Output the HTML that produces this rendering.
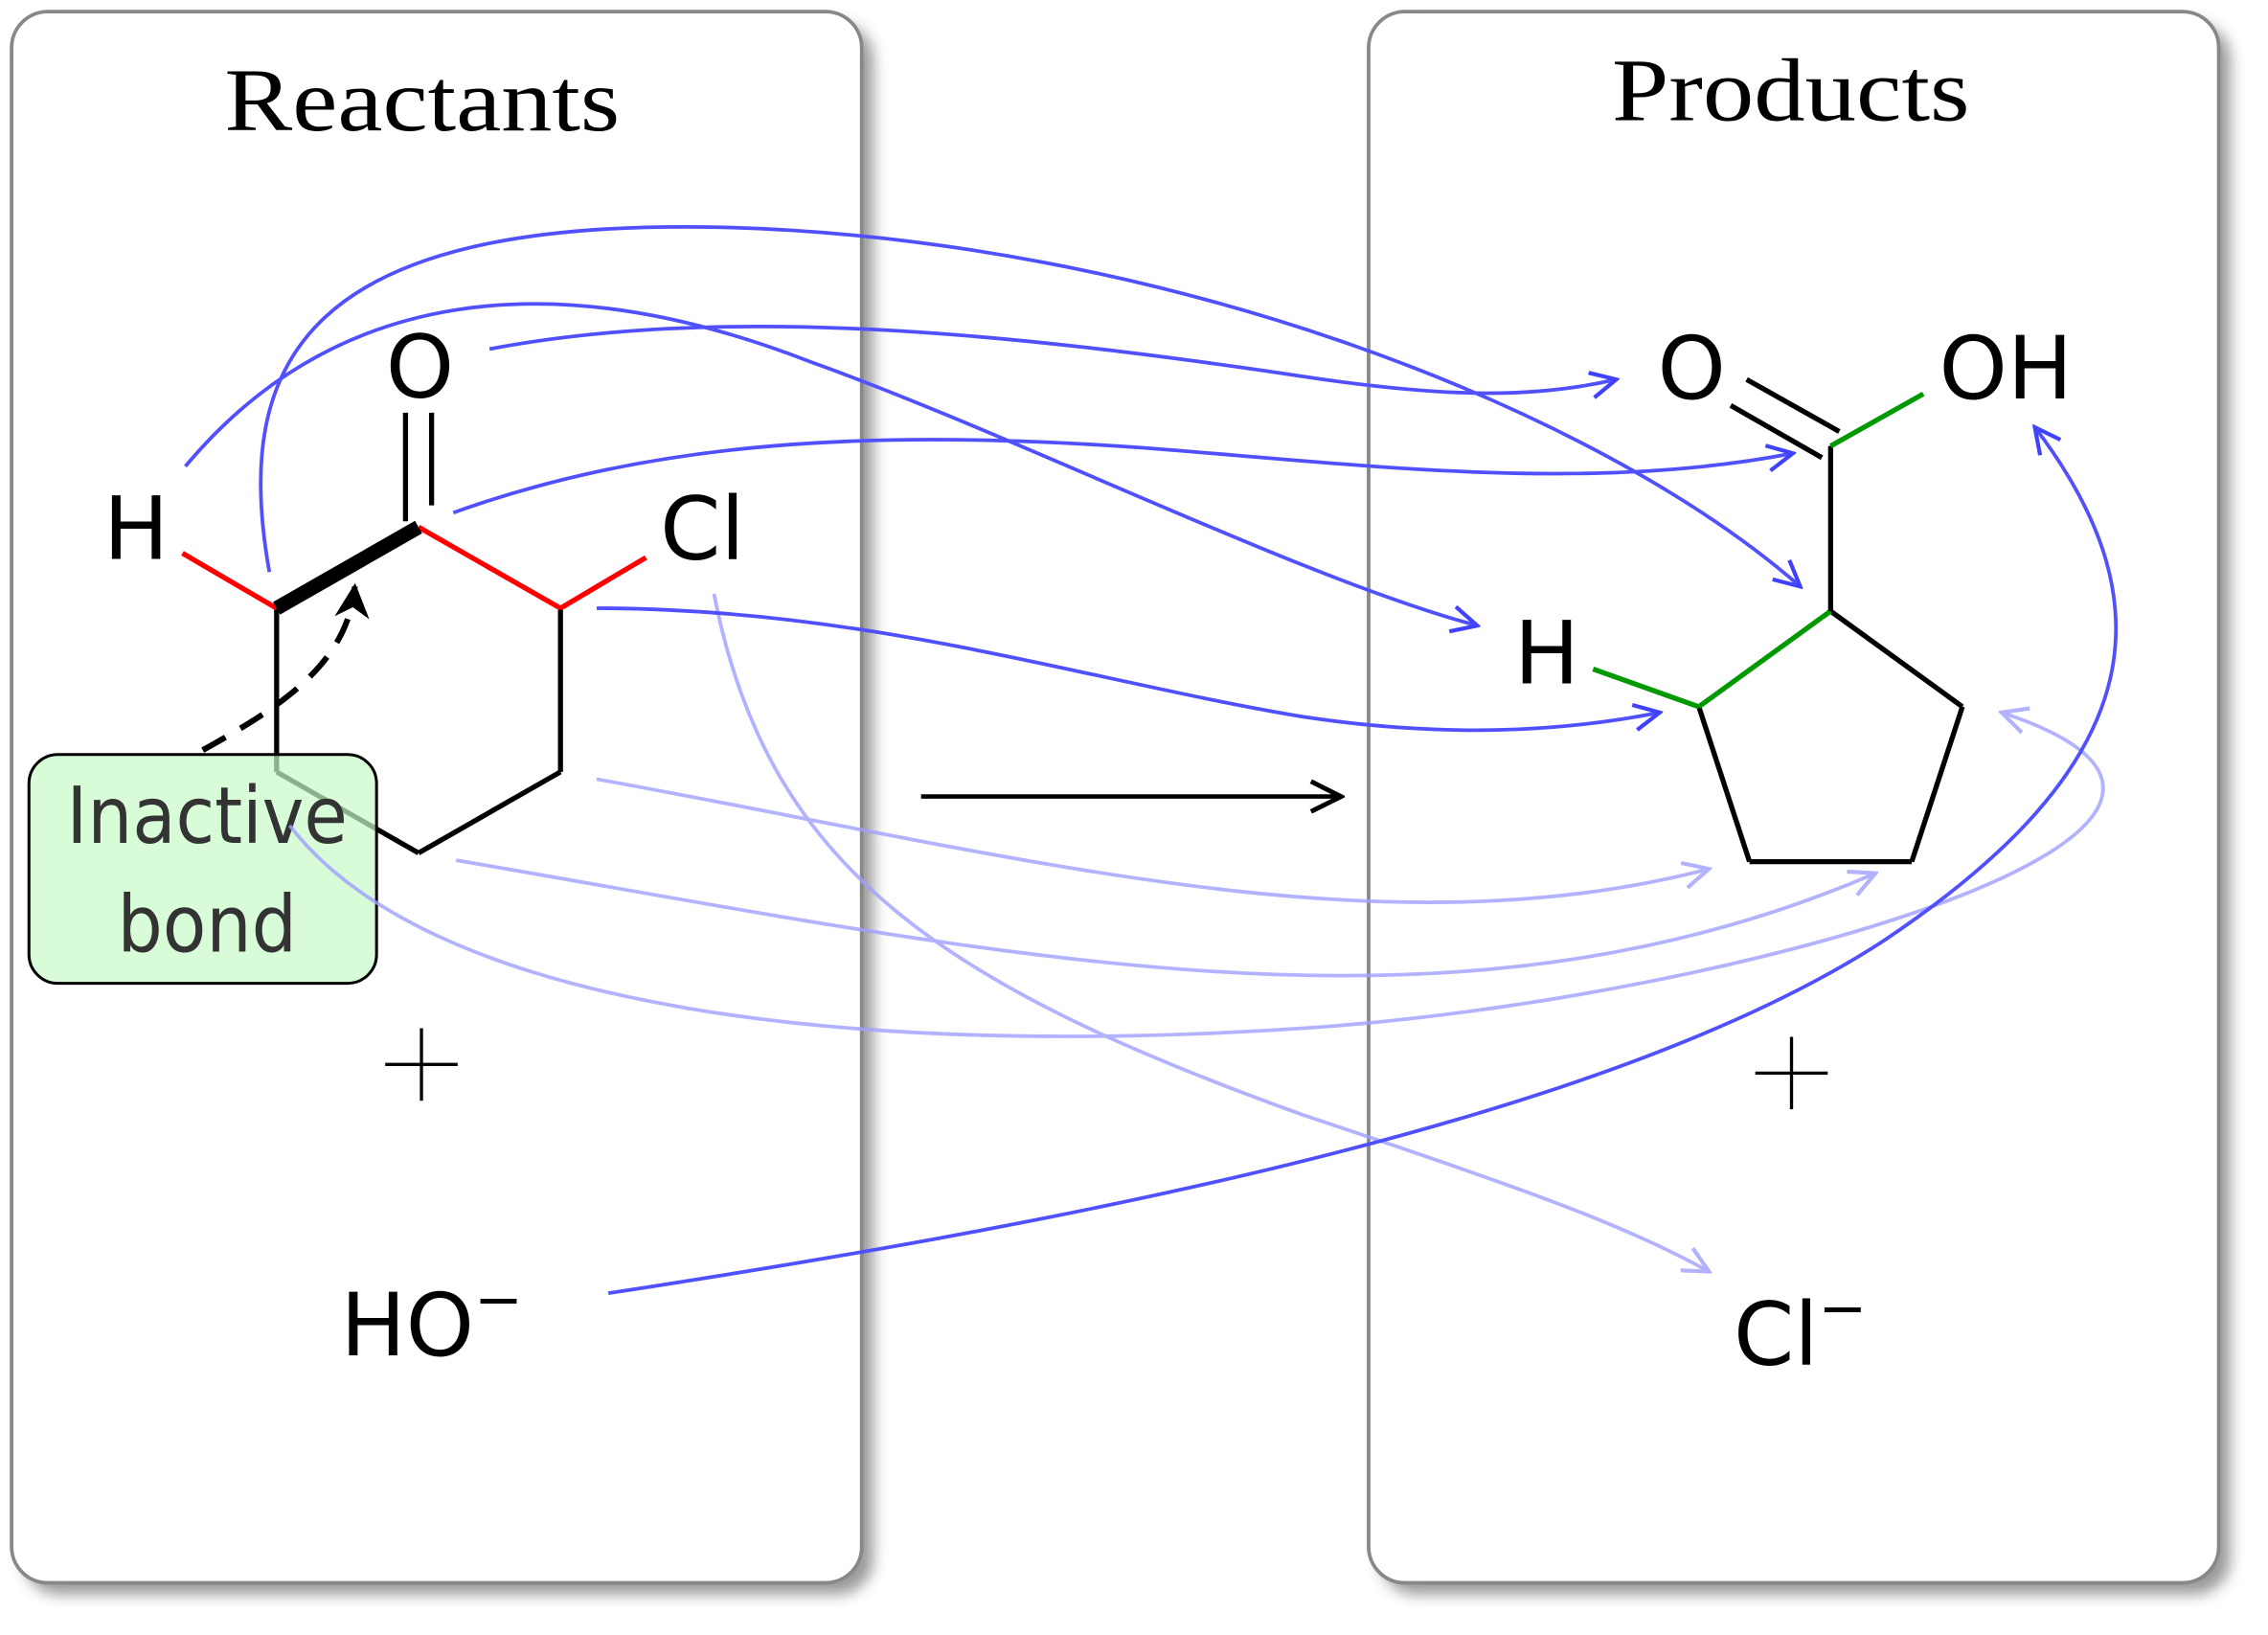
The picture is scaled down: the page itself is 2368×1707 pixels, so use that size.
<!DOCTYPE html>
<html><head><meta charset="utf-8"><style>html,body{margin:0;padding:0;background:#fff}svg{display:block}</style></head>
<body>
<svg width="2368" height="1707" viewBox="0 0 1566 1129" preserveAspectRatio="none" xmlns="http://www.w3.org/2000/svg">
<defs>
<filter id="sh" x="-10%" y="-10%" width="130%" height="130%"><feGaussianBlur stdDeviation="5"/></filter>
<marker id="ab" viewBox="0 0 20 20" refX="18" refY="10" markerWidth="22" markerHeight="22" markerUnits="userSpaceOnUse" orient="auto"><path d="M2,2 L18,10 L2,18" fill="none" stroke="#4040ff" stroke-width="2.5"/></marker>
<marker id="al" viewBox="0 0 20 20" refX="18" refY="10" markerWidth="22" markerHeight="22" markerUnits="userSpaceOnUse" orient="auto"><path d="M2,2 L18,10 L2,18" fill="none" stroke="#a0a0ff" stroke-width="2.5"/></marker>
<marker id="ak" viewBox="0 0 20 20" refX="18" refY="10" markerWidth="26" markerHeight="26" markerUnits="userSpaceOnUse" orient="auto"><path d="M2,2 L18,10 L2,18" fill="none" stroke="#000" stroke-width="2.5"/></marker>
<marker id="ad" viewBox="0 0 20 20" refX="18" refY="10" markerWidth="24" markerHeight="24" markerUnits="userSpaceOnUse" orient="auto"><path d="M0,0 L20,10 L0,20 L6,10 Z" fill="#000"/></marker>
</defs>
<rect x="16" y="16" width="587" height="1085" rx="25" fill="#555" opacity="0.6" filter="url(#sh)"/>
<rect x="8" y="8" width="587" height="1085" rx="25" fill="#fff" stroke="#888" stroke-width="2.5"/>
<rect x="953" y="16" width="587" height="1085" rx="25" fill="#555" opacity="0.6" filter="url(#sh)"/>
<rect x="945" y="8" width="587" height="1085" rx="25" fill="#fff" stroke="#888" stroke-width="2.5"/>
<g font-family="Liberation Serif, serif" font-size="62" fill="#000">
<text x="155" y="90" textLength="273" lengthAdjust="spacingAndGlyphs">Reactants</text>
<text x="1113" y="83" textLength="247" lengthAdjust="spacingAndGlyphs">Products</text>
</g>
<g stroke="#000" stroke-width="2.2">
<line x1="266" y1="735" x2="316" y2="735"/><line x1="291" y1="710" x2="291" y2="760"/>
<line x1="1212" y1="741" x2="1262" y2="741"/><line x1="1237" y1="716" x2="1237" y2="766"/>
</g>
<g stroke-width="3.5" fill="none">
<line x1="191" y1="420" x2="191" y2="533" stroke="#000"/>
<line x1="191" y1="533" x2="289" y2="589" stroke="#000"/>
<line x1="289" y1="589" x2="387" y2="533" stroke="#000"/>
<line x1="387" y1="533" x2="387" y2="420" stroke="#000"/>
<line x1="387" y1="420" x2="289" y2="364" stroke="#f00"/>
<line x1="126" y1="382" x2="191" y2="420" stroke="#f00"/>
<line x1="387" y1="420" x2="446" y2="385" stroke="#f00"/>
<line x1="280" y1="285" x2="280" y2="360" stroke="#000"/>
<line x1="298" y1="285" x2="298" y2="349" stroke="#000"/>
<line x1="191" y1="420" x2="289" y2="364" stroke="#000" stroke-width="10"/>
</g>
<g font-family="DejaVu Sans, Liberation Sans, sans-serif" font-size="60" fill="#000" text-anchor="middle">
<text x="290" y="274">O</text>
<text x="94" y="386">H</text>
<text x="485" y="386">Cl</text>
<text x="298" y="936">HO<tspan font-size="40" dy="-25">−</tspan></text>
<text x="1168" y="275">O</text>
<text x="1385" y="275">OH</text>
<text x="1068" y="472">H</text>
<text x="1243" y="942">Cl<tspan font-size="40" dy="-25">−</tspan></text>
</g>
<g stroke-width="3.5" fill="none">
<line x1="1264" y1="422" x2="1355" y2="488" stroke="#000"/>
<line x1="1355" y1="488" x2="1320" y2="595" stroke="#000"/>
<line x1="1320" y1="595" x2="1208" y2="595" stroke="#000"/>
<line x1="1208" y1="595" x2="1173" y2="488" stroke="#000"/>
<line x1="1173" y1="488" x2="1264" y2="422" stroke="#090"/>
<line x1="1100" y1="462" x2="1173" y2="488" stroke="#090"/>
<line x1="1264" y1="422" x2="1264" y2="308" stroke="#000"/>
<line x1="1264" y1="308" x2="1328" y2="272" stroke="#090"/>
<line x1="1195" y1="280" x2="1258" y2="316" stroke="#000"/>
<line x1="1206" y1="262" x2="1270" y2="298" stroke="#000"/>
</g>
<line x1="636" y1="550" x2="926" y2="550" stroke="#000" stroke-width="3" marker-end="url(#ak)"/>
<path d="M140,518 C190,490 240,460 245,405" fill="none" stroke="#000" stroke-width="4" stroke-dasharray="18,12" marker-end="url(#ad)"/>
<rect x="20" y="521" width="240" height="158" rx="20" fill="#c8fbc8" fill-opacity="0.7" stroke="#000" stroke-width="2"/>
<g font-family="DejaVu Sans, Liberation Sans, sans-serif" font-size="54" fill="#333" text-anchor="middle">
<text x="143" y="582" textLength="194" lengthAdjust="spacingAndGlyphs">Inactive</text>
<text x="143" y="657" textLength="124" lengthAdjust="spacingAndGlyphs">bond</text>
</g>
<g fill="none" stroke="#a0a0ff" stroke-width="2.5" marker-end="url(#al)" opacity="0.8">
<path d="M493,410 C530,600 650,680 900,770 C1050,820 1120,845 1180,878"/>
<path d="M412,538 C700,590 950,660 1180,600"/>
<path d="M315,594 C700,660 1000,730 1295,603"/>
<path d="M200,570 C300,700 600,730 900,710 C1200,690 1620,570 1382,492"/>
</g>
<g fill="none" stroke="#5050ff" stroke-width="2.5" marker-end="url(#ab)">
<path d="M128,322 C230,200 380,180 560,250 C700,300 900,400 1020,432"/>
<path d="M186,395 C160,250 210,150 500,157 C800,165 1100,280 1243,405"/>
<path d="M338,241 C500,210 700,230 900,260 C1000,275 1060,275 1116,262"/>
<path d="M313,354 C450,305 600,295 800,310 C950,322 1100,340 1238,313"/>
<path d="M412,420 C600,420 750,470 900,495 C1000,510 1080,505 1146,492"/>
<path d="M420,893 C700,850 1100,780 1300,650 C1480,530 1500,420 1405,295"/>
</g>
</svg>
</body></html>
